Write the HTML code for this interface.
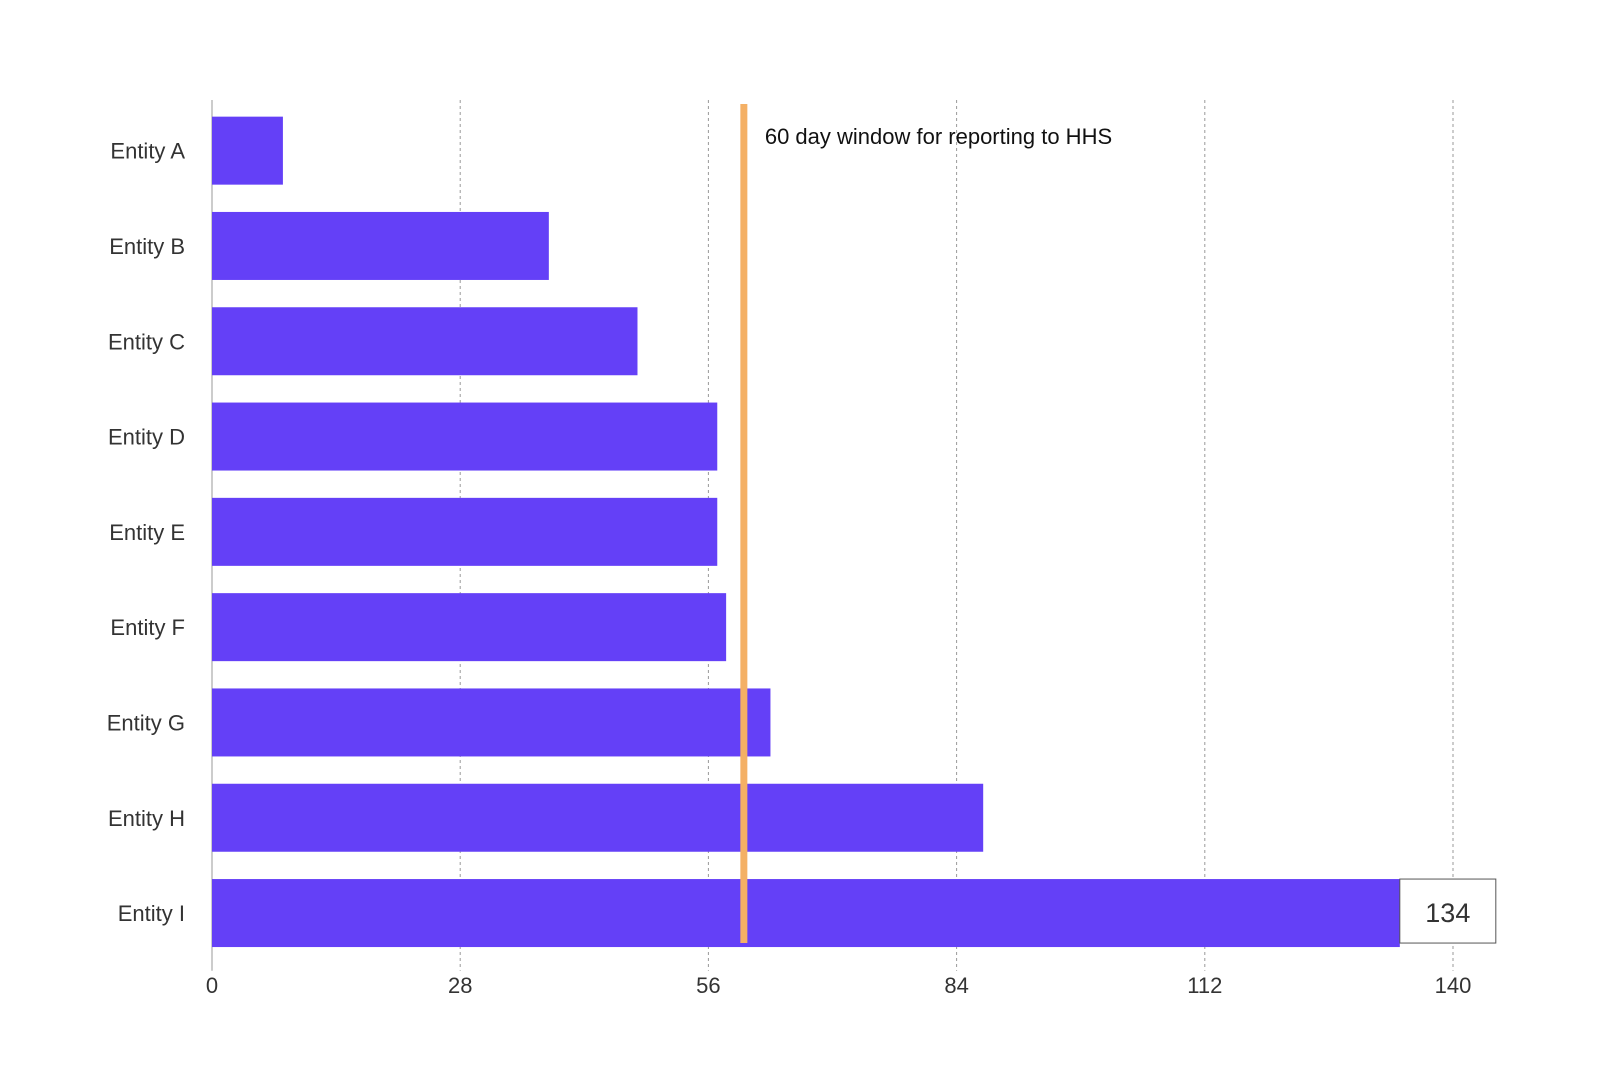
<!DOCTYPE html>
<html><head><meta charset="utf-8"><style>
html,body{margin:0;padding:0;background:#fff;}
svg{display:block;font-family:"Liberation Sans",sans-serif;}
</style></head><body>
<svg id="chart" width="1600" height="1083" viewBox="0 0 1600 1083" xmlns="http://www.w3.org/2000/svg">
<g id="grid"></g>
<g id="bars"></g>
<g id="ylabels"></g>
<g id="xticks"></g>
<g id="ref"></g>
</svg>
<script>
const categories = ["Entity A","Entity B","Entity C","Entity D","Entity E","Entity F","Entity G","Entity H","Entity I"];
const values = [8,38,48,57,57,58,63,87,134];
const tickValues = [0,28,56,84,112,140];
const refValue = 60;
const refLabel = "60 day window for reporting to HHS";
const highlightIndex = 8;

const NS = "http://www.w3.org/2000/svg";
const X0 = 212, X1 = 1453, XMAX = 140;
const TOP = 103, PITCH = 95.3, BARH = 68;
const x = v => X0 + (v / XMAX) * (X1 - X0);
const yc = i => TOP + PITCH * i + PITCH / 2;
function mk(tag, attrs, parent){ const e=document.createElementNS(NS,tag); for(const k in attrs) e.setAttribute(k,attrs[k]); parent.appendChild(e); return e; }

const grid=document.getElementById('grid'), bars=document.getElementById('bars'),
 yl=document.getElementById('ylabels'), xt=document.getElementById('xticks'), ref=document.getElementById('ref');
const bottom = TOP + PITCH * categories.length;

tickValues.forEach((t,i)=>{
  const l = mk('line',{x1:x(t),x2:x(t),y1:100,y2:bottom+10,stroke:'#999','stroke-width':1,'stroke-dasharray':t===0?'none':'3,3'},grid);
  
  
  const tx = mk('text',{x:x(t),y:993,'text-anchor':'middle','font-size':22,fill:'#333'},xt);
  tx.textContent = t;
  
  
});

categories.forEach((c,i)=>{
  const r = mk('rect',{x:X0,y:yc(i)-BARH/2,width:x(values[i])-X0,height:BARH,fill:'#6440f7'},bars);
  
  
  const t = mk('text',{x:185,y:yc(i)+8,'text-anchor':'end','font-size':22,fill:'#333'},yl);
  t.textContent = c;
  
  
});

const hx = x(values[highlightIndex]);
const box = mk('rect',{x:hx,y:yc(highlightIndex)-34,width:96,height:64,fill:'#fff',stroke:'#555','stroke-width':1},bars);


const bt = mk('text',{x:hx+48,y:yc(highlightIndex)+9,'text-anchor':'middle','font-size':27,fill:'#333'},bars);
bt.textContent = values[highlightIndex];



const rl = mk('line',{x1:x(refValue),x2:x(refValue),y1:104,y2:943,stroke:'#f4b065','stroke-width':7},ref);


const rt = mk('text',{x:x(refValue)+21,y:144,'font-size':22,fill:'#111'},ref);
rt.textContent = refLabel;


</script>
</body></html>
